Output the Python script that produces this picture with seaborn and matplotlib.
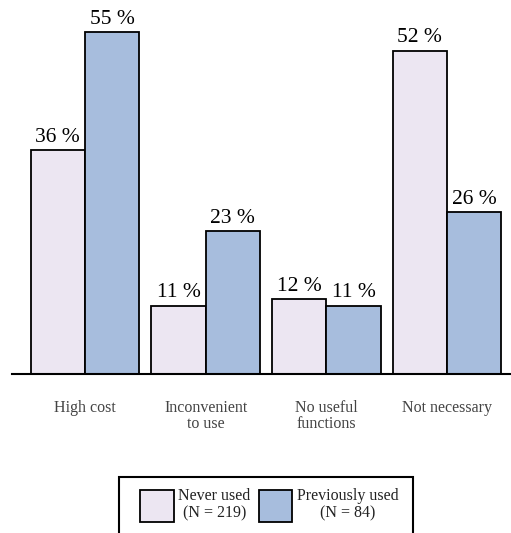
import pandas as pd
import matplotlib
matplotlib.use("Agg")
import matplotlib.pyplot as plt
from matplotlib.patches import Rectangle
import seaborn as sns

# ---------------------------
# Data
# ---------------------------
reasons = ["High cost", "Inconvenient\nto use", "No useful\nfunctions", "Not necessary"]
never_used = [36, 11, 12, 52]
previously_used = [55, 23, 11, 26]
groups = ["Never used\n(N = 219)", "Previously used\n(N = 84)"]

df = pd.DataFrame({
    "reason": reasons * 2,
    "pct": never_used + previously_used,
    "group": [groups[0]] * 4 + [groups[1]] * 4,
})

sns.set_style("white")
plt.rcParams["font.family"] = ["Liberation Serif", "DejaVu Serif"]

fig = plt.figure(figsize=(5.11, 5.33), dpi=100)
ax = fig.add_axes([12 / 511, 1 - 374 / 533, 499 / 511, 374 / 533])

sns.barplot(
    data=df, x="reason", y="pct", hue="group",
    palette=["#ECE6F2", "#A7BDDD"], saturation=1,
    edgecolor="black", linewidth=1.3, width=0.9, ax=ax,
)

for c in ax.containers:
    ax.bar_label(c, fmt="%d %%", padding=2.5, fontsize=15.5, color="black")

ax.set_ylim(0, 374 / 6.218)
ax.set_xlim(-0.605, 3.53)
ax.set_xlabel("")
ax.set_ylabel("")
ax.set_yticks([])
ax.tick_params(axis="x", length=0, pad=19, labelsize=11.5, labelcolor="#444444")
for lbl in ax.get_xticklabels():
    lbl.set_linespacing(1.0)
for spine in ["left", "right", "top"]:
    ax.spines[spine].set_visible(False)
ax.spines["bottom"].set_linewidth(1.5)
ax.spines["bottom"].set_color("black")

# legend: frame drawn by hand, it runs off the bottom edge
ax.get_legend().remove()
handles, labels = ax.get_legend_handles_labels()
fig.patches.append(Rectangle(
    (119 / 511, -0.05), (413 - 119) / 511, 0.05 + 1 - 477 / 533,
    transform=fig.transFigure, facecolor="white", edgecolor="black",
    linewidth=1.5, zorder=0,
))
leg = fig.legend(
    handles, labels, loc="upper left", bbox_to_anchor=(140 / 511, 1 - 488 / 533),
    ncol=2, fontsize=11.5, frameon=False,
    handlelength=2.1, handleheight=2.7, handletextpad=0.3, columnspacing=0.5,
    borderpad=0, borderaxespad=0,
)
for t in leg.get_texts():
    t.set_multialignment("center")
    t.set_color("#222222")
    t.set_linespacing(1.1)

fig.savefig("out.png", dpi=100)
